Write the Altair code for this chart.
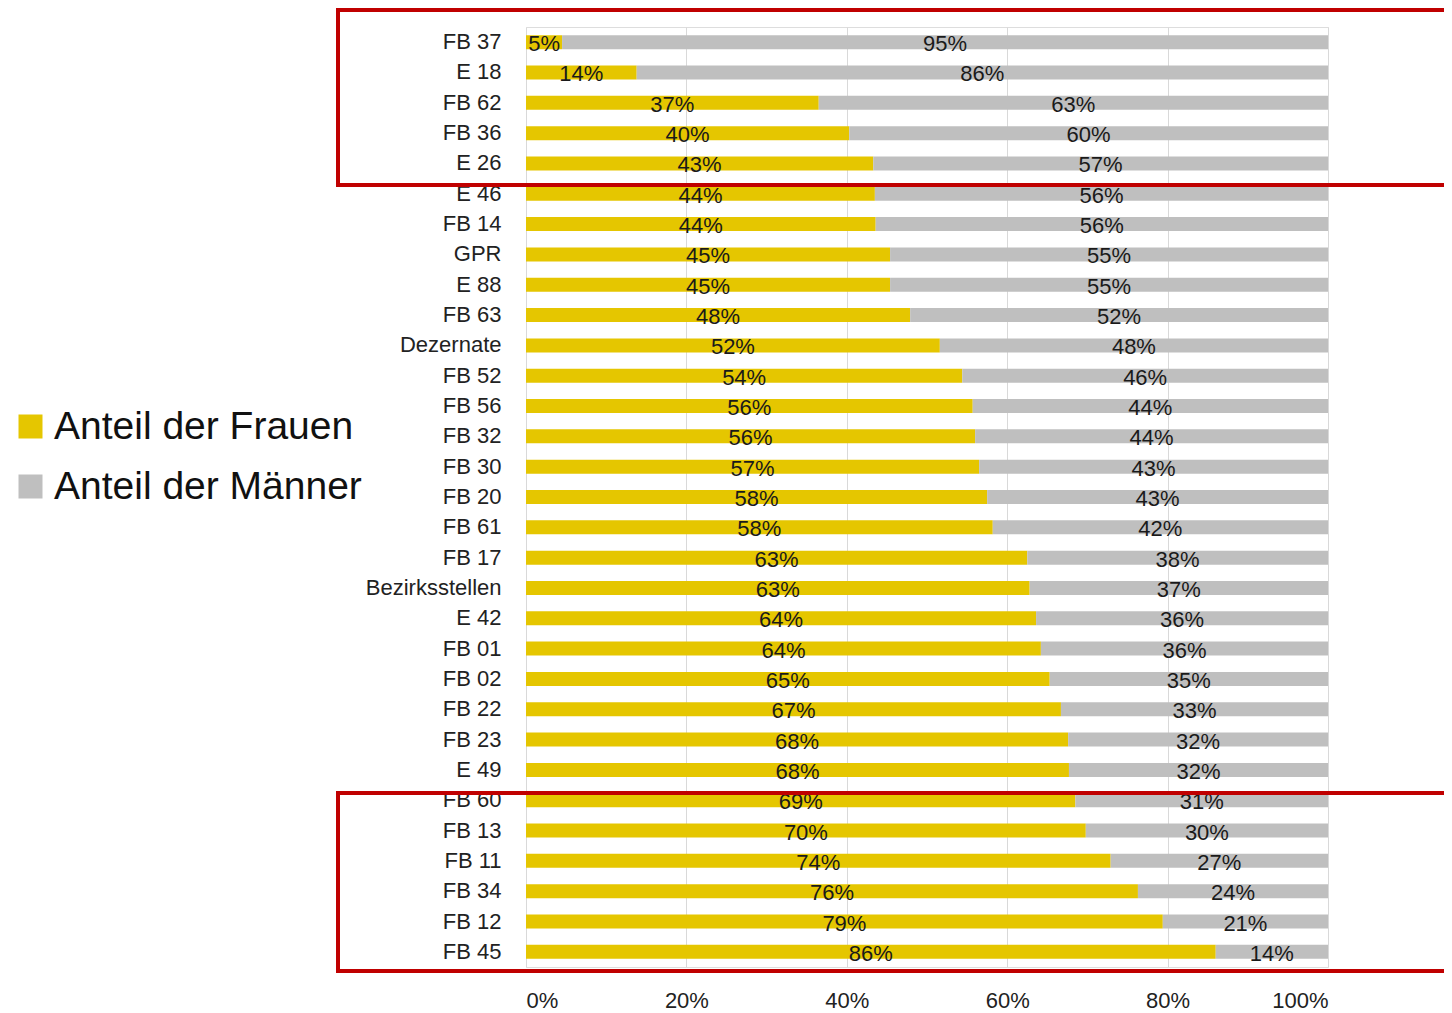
import altair as alt
import pandas as pd

categories = ["FB 37", "E 18", "FB 62", "FB 36", "E 26", "E 46", "FB 14", "GPR", "E 88",
              "FB 63", "Dezernate", "FB 52", "FB 56", "FB 32", "FB 30", "FB 20", "FB 61",
              "FB 17", "Bezirksstellen", "E 42", "FB 01", "FB 02", "FB 22", "FB 23", "E 49",
              "FB 60", "FB 13", "FB 11", "FB 34", "FB 12", "FB 45"]
# share of women (bar length, %)
women_share = [4.5, 13.8, 36.5, 40.3, 43.3, 43.5, 43.6, 45.4, 45.4, 47.9, 51.6, 54.4,
               55.7, 56.0, 56.5, 57.5, 58.2, 62.5, 62.8, 63.6, 64.2, 65.3, 66.7, 67.6,
               67.7, 68.5, 69.8, 72.9, 76.3, 79.4, 86.0]
# printed labels
women_labels = [5, 14, 37, 40, 43, 44, 44, 45, 45, 48, 52, 54, 56, 56, 57, 58, 58, 63, 63,
                64, 64, 65, 67, 68, 68, 69, 70, 74, 76, 79, 86]
men_labels = [95, 86, 63, 60, 57, 56, 56, 55, 55, 52, 48, 46, 44, 44, 43, 43, 42, 38, 37,
              36, 36, 35, 33, 32, 32, 31, 30, 27, 24, 21, 14]
series = ["Anteil der Frauen", "Anteil der Männer"]
colors = ["#E5C600", "#BFBFBF"]
x_ticks = [0, 20, 40, 60, 80, 100]

rows = []
for c, w, wl, ml in zip(categories, women_share, women_labels, men_labels):
    rows.append({"cat": c, "series": series[0], "start": 0, "end": w, "label": f"{wl}%"})
    rows.append({"cat": c, "series": series[1], "start": w, "end": 100, "label": f"{ml}%"})
df = pd.DataFrame(rows)

FONT = "Liberation Sans, Arial, sans-serif"
FS = 22

y_enc = alt.Y("cat:N", sort=categories, title=None,
              scale=alt.Scale(paddingInner=0, paddingOuter=0),
              axis=alt.Axis(ticks=False, domain=False, labelFont=FONT, labelFontSize=FS,
                            labelColor="#222222", labelPadding=25, labelLimit=300))

base = alt.Chart(df)

bars = base.mark_bar(size=14).encode(
    x=alt.X("start:Q", scale=alt.Scale(domain=[0, 100], nice=False), title=None,
            axis=alt.Axis(values=x_ticks, labelExpr="datum.value + '%'", ticks=False,
                          domain=False, grid=True, gridColor="#D9D9D9", gridWidth=1,
                          labelFont=FONT, labelFontSize=FS, labelColor="#222222",
                          labelPadding=23, labelBaseline="top")),
    x2="end:Q",
    y=y_enc,
    color=alt.Color("series:N", scale=alt.Scale(domain=series, range=colors), title=None,
                    legend=alt.Legend(orient="none", legendX=-515, legendY=380,
                                      symbolType="square", symbolSize=576,
                                      symbolStrokeWidth=0, labelFont=FONT,
                                      labelFontSize=39, labelColor="#111111",
                                      labelOffset=4, rowPadding=20, labelLimit=500)),
)

texts = base.transform_calculate(mid="(datum.start + datum.end) / 2").mark_text(
    font=FONT, fontSize=FS, color="#1A1A1A", baseline="middle", dy=2
).encode(
    x="mid:Q",
    y=alt.Y("cat:N", sort=categories),
    text="label:N",
)

box_data = alt.Data(values=[{"k": 1}])
box_top = alt.Chart(box_data).mark_rect(fill=None, stroke="#C00000", strokeWidth=4).encode(
    x=alt.value(-188), x2=alt.value(960), y=alt.value(-17), y2=alt.value(158))
box_bottom = alt.Chart(box_data).mark_rect(fill=None, stroke="#C00000", strokeWidth=4).encode(
    x=alt.value(-188), x2=alt.value(960), y=alt.value(766), y2=alt.value(944))

chart = alt.layer(bars, texts, box_top, box_bottom).properties(
    width=802, height=940,
    autosize=alt.AutoSizeParams(type="none"),
    padding={"left": 518, "top": 19, "right": 116, "bottom": 44},
).configure_view(stroke=None).configure(background="white")

chart.save("out.html", embed_options={"renderer": "svg", "actions": False})
